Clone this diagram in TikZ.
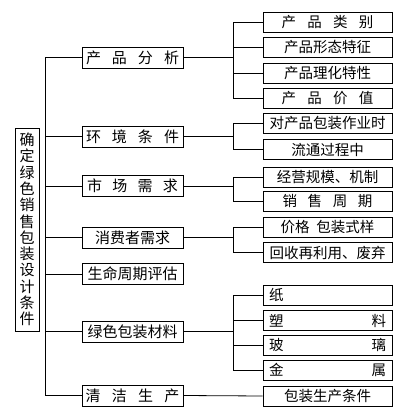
\documentclass[tikz,border=0pt]{standalone}
\usepackage{fontspec}
\newfontfamily\cjk{Noto Sans CJK SC}
\begin{document}
\begin{tikzpicture}[x=1pt,y=-1pt,
  box/.style={draw,line width=0.9pt,inner sep=0pt},
  midbox/.style={box,minimum width=101pt,minimum height=21pt,font=\cjk\fontsize{15}{15}\selectfont},
  rbox/.style={box,minimum width=129pt,minimum height=20pt,font=\cjk\fontsize{14.5}{14.5}\selectfont},
  conn/.style={line width=0.8pt}]
\useasboundingbox (0,0) rectangle (415,419);
% left box
\node[box,minimum width=24pt,minimum height=203pt,align=center,font=\cjk\fontsize{15}{16.3}\selectfont] (L) at (27,229.5)
  {确\\定\\绿\\色\\销\\售\\包\\装\\设\\计\\条\\件};
% middle boxes
\node[midbox] (m1) at (132.5,57.5) {\makebox[93pt][s]{产\hfill 品\hfill 分\hfill 析}};
\node[midbox] (m2) at (132.5,136.5) {\makebox[93pt][s]{环\hfill 境\hfill 条\hfill 件}};
\node[midbox] (m3) at (132.5,186) {\makebox[91pt][s]{市\hfill 场\hfill 需\hfill 求}};
\node[midbox] (m4) at (132.5,237.5) {消费者需求};
\node[midbox] (m5) at (132.5,274) {生命周期评估};
\node[midbox] (m6) at (132.5,331.5) {绿色包装材料};
\node[midbox] (m7) at (132.5,395.5) {\makebox[94pt][s]{清\hfill 洁\hfill 生\hfill 产}};
% right boxes
\node[rbox] (r1) at (327.5,22.5) {\makebox[92pt][s]{产\hfill 品\hfill 类\hfill 别}};
\node[rbox] (r2) at (327.5,47) {产品形态特征};
\node[rbox] (r3) at (327.5,73) {产品理化特性};
\node[rbox] (r4) at (327.5,98) {\makebox[92pt][s]{产\hfill 品\hfill 价\hfill 值}};
\node[rbox] (r5) at (327.5,123) {对产品包装作业时};
\node[rbox] (r6) at (327.5,149.5) {流通过程中};
\node[rbox] (r7) at (327.5,177.5) {经营规模、机制};
\node[rbox] (r8) at (327.5,201) {\makebox[90pt][s]{销\hfill 售\hfill 周\hfill 期}};
\node[rbox] (r9) at (327.5,227.5) {价格\hspace{7pt}包装式样};
\node[rbox] (r10) at (327.5,252.5) {回收再利用、废弃};
\node[rbox] (r11) at (327.5,295) {\makebox[117pt][l]{纸}};
\node[rbox] (r12) at (327.5,320.5) {\makebox[117pt][s]{塑\hfill 料}};
\node[rbox] (r13) at (327.5,345) {\makebox[117pt][s]{玻\hfill 璃}};
\node[rbox] (r14) at (327.5,370) {\makebox[117pt][s]{金\hfill 属}};
\node[rbox] (r15) at (327.5,396) {包装生产条件};
% trunk
\coordinate (tx) at (45,0);
\coordinate (bx) at (233,0);
\draw[conn] (tx |- m1.west) -- (tx |- m7.west);
\foreach \m in {m1,m2,m3,m4,m5,m6,m7}
  \draw[conn] (tx |- \m.west) -- (\m.west);
% branches
\foreach \m/\r in {m1/r1,m1/r2,m1/r3,m1/r4,m2/r5,m2/r6,m3/r7,m3/r8,m4/r9,m4/r10,m6/r11,m6/r12,m6/r13,m6/r14}
  \draw[conn] (\m.east) -| (bx |- \r.west) -- (\r.west);
\draw[conn] (m7.east) -- (r15.west);
\end{tikzpicture}
\end{document}
